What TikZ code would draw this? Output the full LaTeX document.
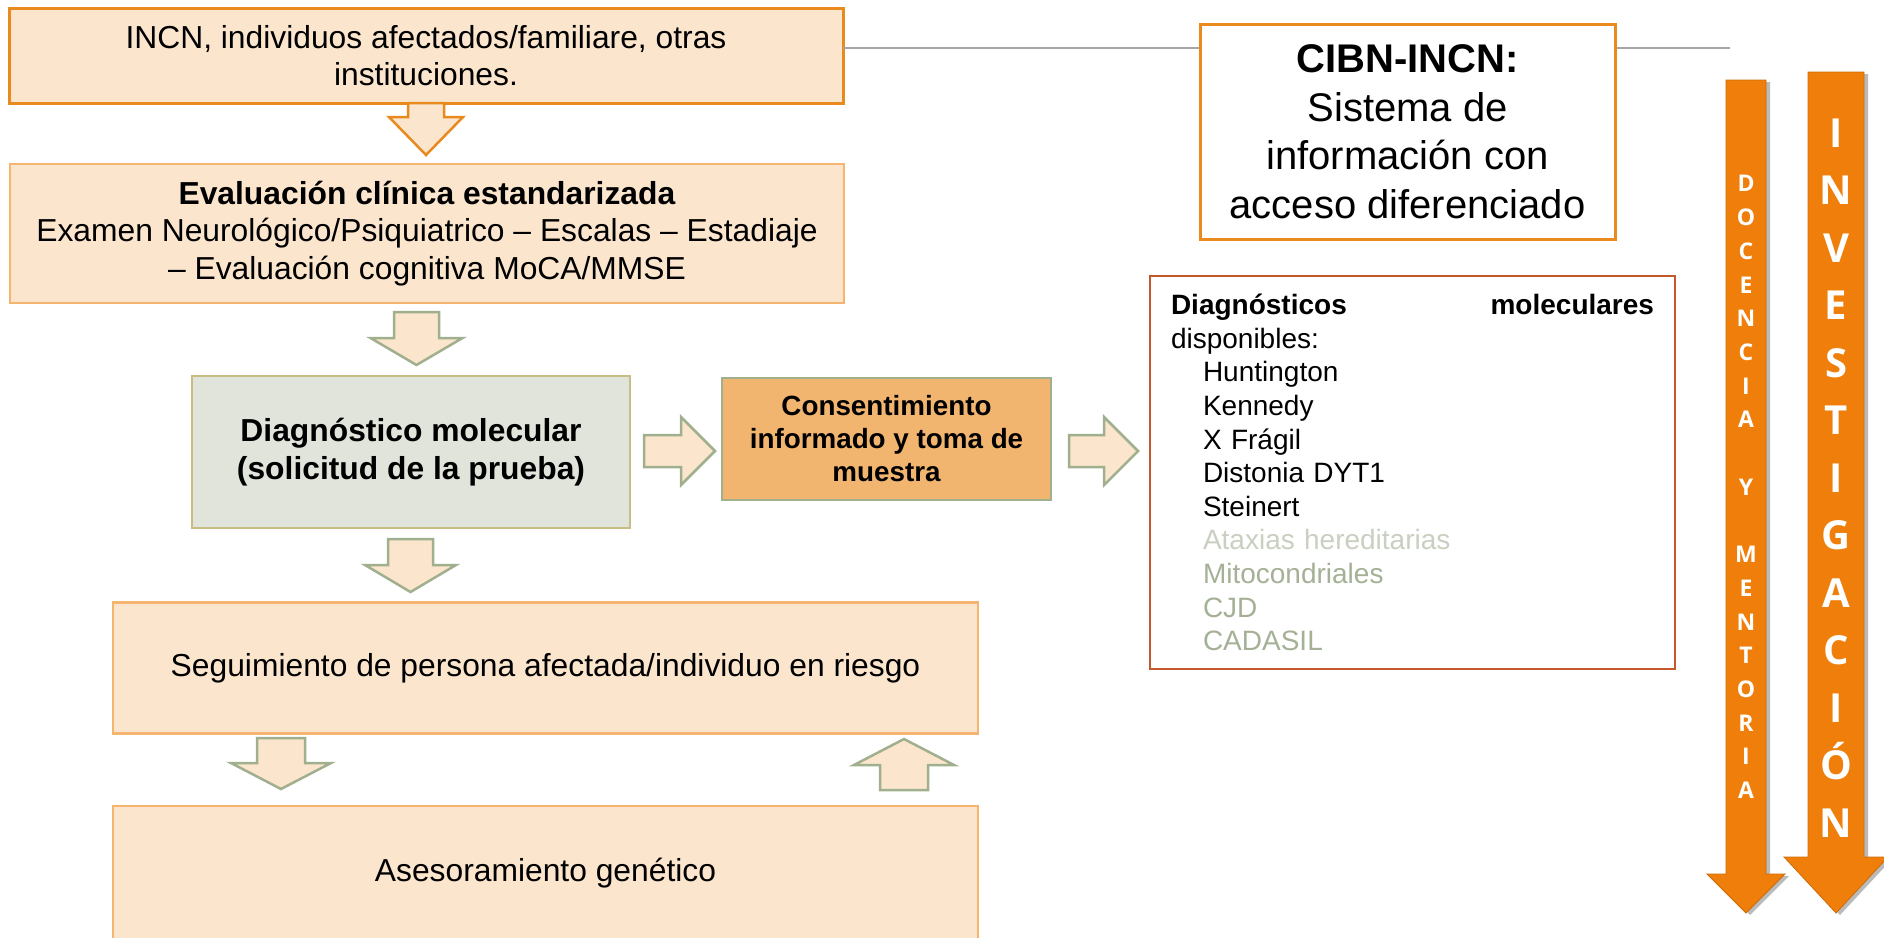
\documentclass[tikz,border=0pt]{standalone}
\usepackage{fontspec}
\setmainfont{Liberation Sans}
\newfontfamily\letrafont{Open Sans}
\usetikzlibrary{calc,shadows}

\definecolor{durazno}{HTML}{FBE5CD}
\definecolor{naranjaosc}{HTML}{E98A1F}
\definecolor{naranjacla}{HTML}{F5B46F}
\definecolor{grisverde}{HTML}{E1E4DB}
\definecolor{caqui}{HTML}{C6BE85}
\definecolor{consfill}{HTML}{F2B56F}
\definecolor{verdeflecha}{HTML}{A0AF8D}
\definecolor{ladrillo}{HTML}{C3592C}
\definecolor{grislinea}{HTML}{A6A6A6}
\definecolor{naranjafuerte}{HTML}{EF7F0A}
\definecolor{ataxia}{HTML}{C9D0C1}
\definecolor{mito}{HTML}{A5B196}

\newcommand\flecha[6]{%
  \coordinate (fl-h) at ($(#3)!#6!(#2)$);
  \filldraw[#1] ($(#2)!#4!90:(#3)$) -- ($(fl-h)!#4!90:(#3)$) -- ($(fl-h)!#5!90:(#3)$) -- (#3)
    -- ($(fl-h)!#5!-90:(#3)$) -- ($(fl-h)!#4!-90:(#3)$) -- ($(#2)!#4!-90:(#3)$) -- cycle;}

\begin{document}
\begin{tikzpicture}[x=1pt,y=-1pt,
  caja/.style={draw,fill=durazno,line width=2.5pt,inner sep=0pt,outer sep=0pt,align=center,
    font=\fontsize{31.8}{37.5}\selectfont},
  flechaverde/.style={draw=verdeflecha,fill=durazno,line width=2.5pt},
  flechanaranja/.style={draw=naranjaosc,fill=durazno,line width=2.5pt},
  flechagrande/.style={fill=naranjafuerte,draw=naranjafuerte!85!black,line width=0.8pt,
    drop shadow={shadow xshift=4pt,shadow yshift=-2pt,fill=black!60,opacity=.45}},
  letras/.style={text=white,align=center,inner sep=0pt}]
\useasboundingbox (0,0) rectangle (1884,937);

\node[caja,draw=naranjaosc,line width=3pt,minimum width=834pt,minimum height=95pt] (incn) at (426,55.5)
  {INCN, individuos afectados/familiare, otras\\instituciones.};
\node[caja,draw=naranjacla,minimum width=834pt,minimum height=139pt] (eval) at (427,233.5)
  {\textbf{Evaluación clínica estandarizada}\\Examen Neurológico/Psiquiatrico – Escalas – Estadiaje\\– Evaluación cognitiva MoCA/MMSE};
\node[caja,draw=caqui,fill=grisverde,minimum width=438pt,minimum height=152pt] (diag) at (411,452)
  {\textbf{Diagnóstico molecular}\\\textbf{(solicitud de la prueba)}};
\node[caja,draw=verdeflecha,fill=consfill,minimum width=329pt,minimum height=122pt,
  font=\fontsize{27.8}{33}\selectfont\bfseries] (cons) at (886.5,439)
  {Consentimiento\\informado y toma de\\muestra};
\node[caja,draw=naranjacla,minimum width=865pt,minimum height=131pt] (seg) at (545.5,668)
  {Seguimiento de persona afectada/individuo en riesgo};
\node[caja,draw=naranjacla,minimum width=865pt,minimum height=134pt] (ases) at (545.5,873)
  {Asesoramiento genético};

\coordinate (lfin) at (1730,48);
\draw[grislinea,line width=2pt] ([yshift=7.5pt]incn.east) -- (lfin);
\node[caja,draw=naranjaosc,fill=white,line width=3pt,minimum width=415pt,minimum height=215pt,
  font=\fontsize{40}{48.5}\selectfont] (cibn) at (1407.5,131.5)
  {\textbf{CIBN-INCN:}\\Sistema de\\información con\\acceso diferenciado};
\node[draw=ladrillo,line width=2.5pt,fill=white,minimum width=525pt,minimum height=393pt,
  text width=483pt,align=left,inner sep=0pt,font=\fontsize{28}{33.6}\selectfont] (lista) at (1412.5,472.5)
  {\textbf{Diagnósticos}\hfill\textbf{moleculares}\\
   disponibles:\\
   \hspace*{32pt}Huntington\\
   \hspace*{32pt}Kennedy\\
   \hspace*{32pt}X Frágil\\
   \hspace*{32pt}Distonia DYT1\\
   \hspace*{32pt}Steinert\\
   \hspace*{32pt}\textcolor{ataxia}{Ataxias hereditarias}\\
   \hspace*{32pt}\textcolor{mito}{Mitocondriales}\\
   \hspace*{32pt}\textcolor{mito}{CJD}\\
   \hspace*{32pt}\textcolor{mito}{CADASIL}};

\coordinate (a1) at (426,155);
\coordinate (a2i) at (416.5,312);
\coordinate (a2f) at (416.5,365);
\coordinate (a3i) at (410.5,539);
\coordinate (a3f) at (410.5,592);
\coordinate (a4i) at (644,451);
\coordinate (a4f) at (715,451);
\coordinate (a5i) at (1069,451);
\coordinate (a5f) at (1138,451);
\coordinate (a6i) at (281,738);
\coordinate (a6f) at (281,789);
\coordinate (a7i) at (904,790);
\coordinate (a7f) at (904,739);
\flecha{flechanaranja}{incn.south}{a1}{18pt}{37pt}{38pt}
\flecha{flechaverde}{a2i}{a2f}{22.5pt}{46pt}{27pt}
\flecha{flechaverde}{a3i}{a3f}{22.5pt}{45.5pt}{27pt}
\flecha{flechaverde}{a4i}{a4f}{16pt}{34pt}{34pt}
\flecha{flechaverde}{a5i}{a5f}{16pt}{34pt}{34pt}
\flecha{flechaverde}{a6i}{a6f}{24pt}{50pt}{26pt}
\flecha{flechaverde}{a7i}{a7f}{24pt}{50pt}{26pt}

\coordinate (doci) at (1746,80);
\coordinate (docf) at (1746,913);
\coordinate (invi) at (1836,72);
\coordinate (invf) at (1836,913);
\flecha{flechagrande}{doci}{docf}{20pt}{39pt}{39pt}
\flecha{flechagrande}{invi}{invf}{28pt}{52pt}{56pt}
\node[letras,font=\letrafont\bfseries\fontsize{23}{33.7}\selectfont] (docencia) at (1746,487)
  {D\\O\\C\\E\\N\\C\\I\\A\\[33.7pt]Y\\[33.7pt]M\\E\\N\\T\\O\\R\\I\\A};
\node[letras,font=\letrafont\bfseries\fontsize{40}{57.5}\selectfont] (investigacion) at (1836,478)
  {I\\N\\V\\E\\S\\T\\I\\G\\A\\C\\I\\Ó\\N};
\end{tikzpicture}
\end{document}
